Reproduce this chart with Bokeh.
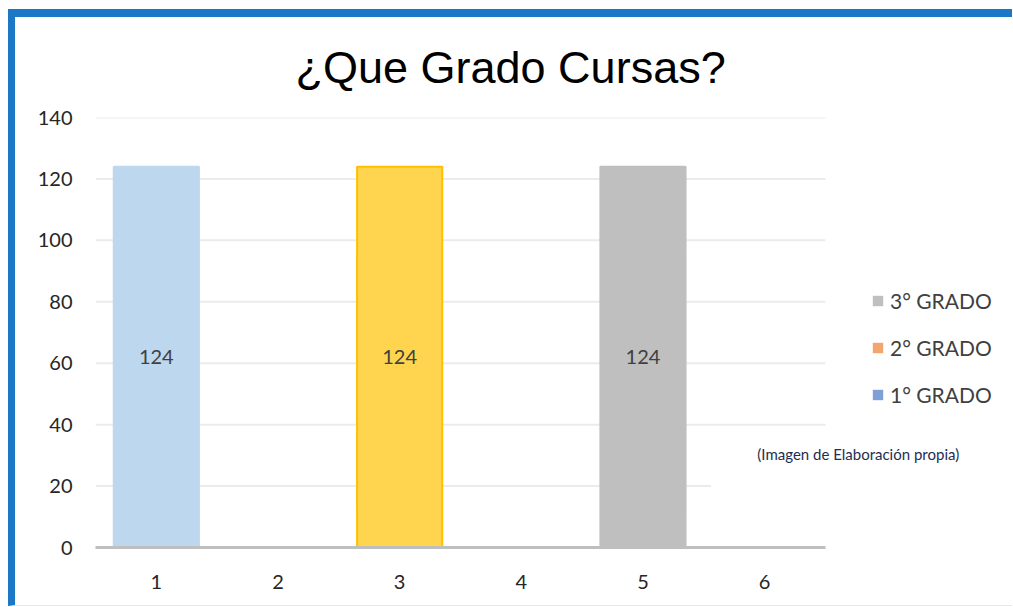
from bokeh.plotting import figure
from bokeh.models import (ColumnDataSource, LabelSet, Label, Legend, LegendItem,
                          BoxAnnotation, Range1d, FixedTicker)
from bokeh.core.properties import value
from bokeh.embed import file_html
from bokeh.resources import INLINE

# ---------------- data ----------------
title_text = "¿Que Grado Cursas?"
categories = [1, 2, 3, 4, 5, 6]
values = [124, 0, 124, 0, 124, 0]
bar_colors = ["#BDD7EE", "#BDD7EE", "#FFD54F", "#FFD54F", "#BFBFBF", "#BFBFBF"]
bar_lines = ["#BDD7EE", "#BDD7EE", "#FFC000", "#FFC000", "#BFBFBF", "#BFBFBF"]
series_names = ["3° GRADO", "2° GRADO", "1° GRADO"]
series_colors = ["#BFBFBF", "#F4A46E", "#7F9FD8"]
y_ticks = [0, 20, 40, 60, 80, 100, 120, 140]
note_text = "(Imagen de Elaboración propia)"

FONT = "Lato"
BLUE = "#1A78C6"

src = ColumnDataSource(dict(
    cat=categories,
    val=values,
    half=[v / 2 for v in values],
    lab=[str(v) if v else "" for v in values],
    fill=bar_colors,
    line=bar_lines,
))

x_lo = min(categories) - 0.5
x_hi = max(categories) + 0.5

p = figure(x_range=Range1d(x_lo, 7.98), y_range=Range1d(0, 140),
           width=1004, height=597,
           output_backend="svg", toolbar_location=None,
           min_border_left=80, min_border_right=14,
           min_border_top=100, min_border_bottom=67,
           styles={"border-top": f"8px solid {BLUE}",
                   "border-left": f"7px solid {BLUE}",
                   "border-bottom": "1px solid #DDEBF7",
                   "margin-left": "8px", "margin-top": "9px"})
p.outline_line_color = None
p.background_fill_color = "white"
p.border_fill_color = "white"

# title
p.title.text = title_text
p.title.text_font = "Liberation Sans"
p.title.text_font_size = "45px"
p.title.text_font_style = "normal"
p.title.text_color = "#000000"
p.title.align = "left"
p.title.vertical_align = "top"
p.title.offset = 200
p.title.standoff = 46

# horizontal gridlines over the category span
p.segment(x0=x_lo, x1=x_hi, y0=y_ticks[1:], y1=y_ticks[1:],
          line_color="#EBEBEB", line_width=2)

# bars
p.vbar(x="cat", top="val", width=0.7, source=src, fill_color="fill",
       line_color="line", line_width=2)

# data labels
labels = LabelSet(x="cat", y="half", text="lab", source=src,
                  text_align="center", text_baseline="middle",
                  text_font=value(FONT), text_font_size="20px",
                  text_color="#404040")
p.add_layout(labels)

# axes
p.yaxis.ticker = FixedTicker(ticks=y_ticks)
p.yaxis.axis_line_color = None
p.yaxis.major_tick_line_color = None
p.yaxis.minor_tick_line_color = None
p.yaxis.major_label_text_font = FONT
p.yaxis.major_label_text_font_size = "20px"
p.yaxis.major_label_text_color = "#262626"
p.yaxis.major_label_standoff = 17

p.xaxis.ticker = FixedTicker(ticks=categories)
p.xaxis.bounds = (x_lo, x_hi)
p.xaxis.axis_line_color = "#BFBFBF"
p.xaxis.axis_line_width = 3
p.xaxis.major_tick_line_color = None
p.xaxis.minor_tick_line_color = None
p.xaxis.major_label_text_font = FONT
p.xaxis.major_label_text_font_size = "20px"
p.xaxis.major_label_text_color = "#262626"
p.xaxis.major_label_standoff = 21

p.xgrid.grid_line_color = None
p.ygrid.grid_line_color = None

# white text box of the note (hides part of the 20 gridline)
p.add_layout(BoxAnnotation(left=5.56, bottom=10, top=35, fill_color="white",
                           fill_alpha=1, line_color=None))

# note
p.add_layout(Label(x=5.94, y=30.6, text=note_text, text_font=FONT,
                   text_font_size="15px", text_color="#1F2D50",
                   text_baseline="middle", text_align="left"))

# legend (series swatches; zero-height bars so nothing shows in the plot)
items = []
for name, col in zip(series_names, series_colors):
    r = p.vbar(x=[categories[0]], top=[0], width=0.7, fill_color=col,
               line_color=None)
    items.append(LegendItem(label=name, renderers=[r]))
legend = Legend(items=items, location=(776, 140), orientation="vertical",
                border_line_color=None, background_fill_alpha=0,
                padding=0, margin=0, spacing=22,
                glyph_width=13, glyph_height=13, label_height=25,
                label_standoff=6, label_text_font=FONT,
                label_text_font_size="21px", label_text_color="#404040")
p.add_layout(legend)

open("out.html", "w").write(file_html(p, INLINE))
